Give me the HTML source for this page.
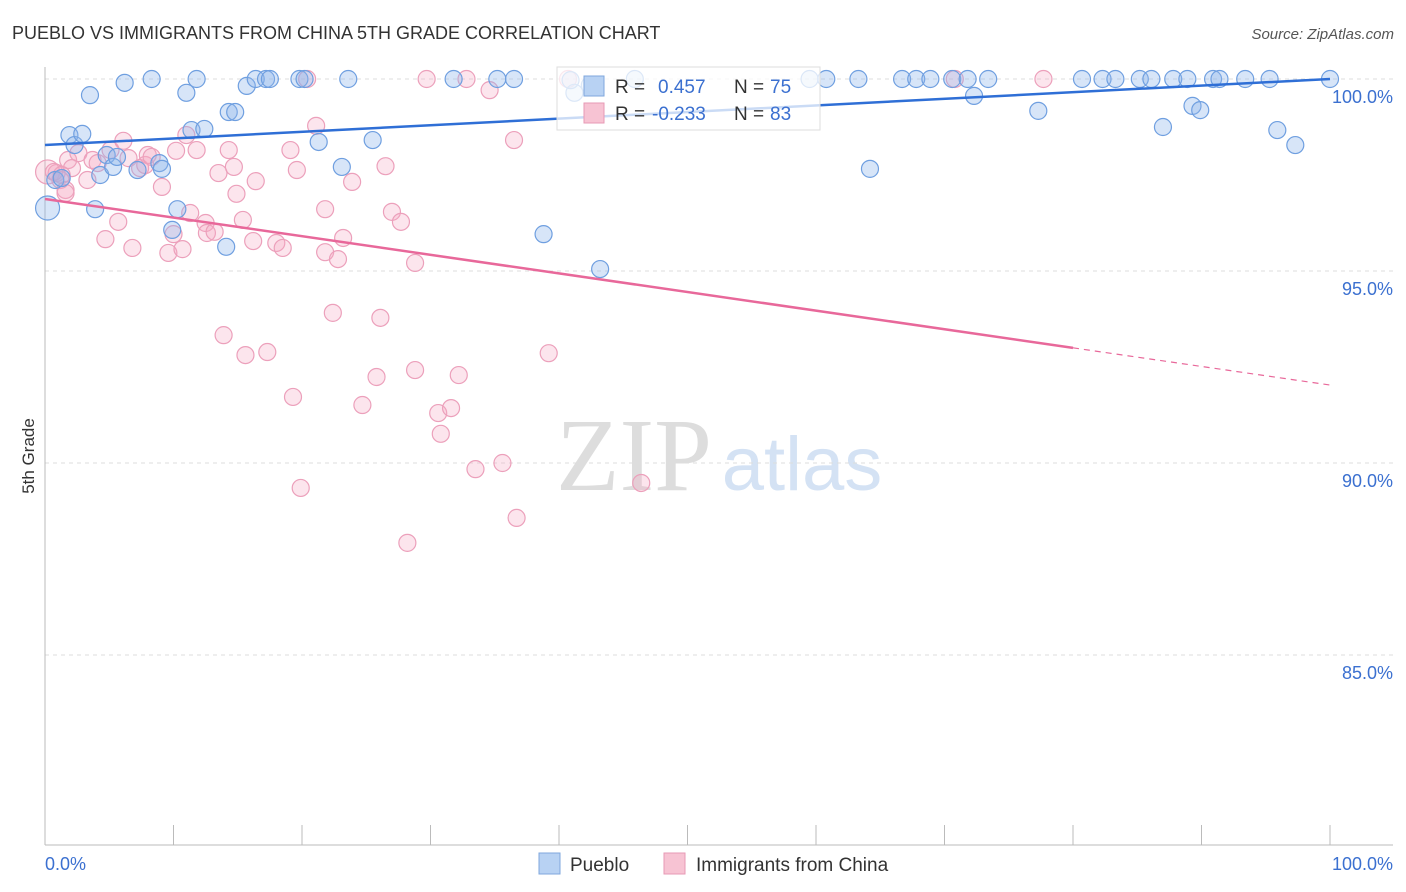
<!DOCTYPE html>
<html><head><meta charset="utf-8">
<style>
body{margin:0;background:#fff;font-family:"Liberation Sans",sans-serif;}
svg{display:block}
</style></head>
<body>
<svg id="chart" width="1406" height="892">
<text x="12" y="39" font-size="18" fill="#333">PUEBLO VS IMMIGRANTS FROM CHINA 5TH GRADE CORRELATION CHART</text>
<text x="1394" y="39" font-size="15" fill="#555" text-anchor="end" font-style="italic">Source: ZipAtlas.com</text>
<text x="34" y="456" font-size="17" fill="#333" text-anchor="middle" transform="rotate(-90 34 456)">5th Grade</text>
<g>
<text x="634" y="490" font-size="104" fill="#ddd" font-family="Liberation Serif,serif" text-anchor="middle">ZIP</text>
<text x="802" y="490" font-size="76" fill="#d4e2f4" text-anchor="middle">atlas</text>
</g>
<g id="grid"></g>
<g id="axes"></g>
<g id="pts"></g>
<g id="trend"></g>
<g>
<rect x="557" y="67" width="263" height="63" fill="#fff" fill-opacity="0.75" stroke="#ddd"/>
<rect x="584" y="76" width="20" height="20" fill="#b8d2f3" stroke="#7fa7dd"/>
<text x="615" y="93" font-size="19" fill="#333">R =</text>
<text x="658" y="93" font-size="19" fill="#3b70d0">0.457</text>
<text x="734" y="93" font-size="19" fill="#333">N =</text>
<text x="770" y="93" font-size="19" fill="#3b70d0">75</text>
<rect x="584" y="103" width="20" height="20" fill="#f7c3d3" stroke="#e79ab4"/>
<text x="615" y="120" font-size="19" fill="#333">R =</text>
<text x="652" y="120" font-size="19" fill="#3b70d0">-0.233</text>
<text x="734" y="120" font-size="19" fill="#333">N =</text>
<text x="770" y="120" font-size="19" fill="#3b70d0">83</text>
</g>
<g>
<rect x="539" y="853" width="21" height="21" fill="#b8d2f3" stroke="#7fa7dd"/>
<text x="570" y="871" font-size="19" fill="#333">Pueblo</text>
<rect x="664" y="853" width="21" height="21" fill="#f7c3d3" stroke="#e79ab4"/>
<text x="696" y="871" font-size="19" fill="#333">Immigrants from China</text>
</g>
</svg>
<script>
const yTicks=[100,95,90,85];
const xTickLabels=["0.0%","100.0%"];
const blueX=[0.2,0.8,1.3,1.9,2.3,2.9,3.5,3.9,4.3,4.8,5.3,5.6,6.2,7.2,8.3,8.9,9.1,9.9,10.3,11.0,11.4,11.8,12.4,14.1,14.3,14.8,15.7,16.4,17.2,17.5,19.8,20.2,21.3,23.1,23.6,25.5,31.8,35.2,36.5,38.8,41.2,43.2,45.9,59.5,60.8,63.3,64.2,66.7,67.8,68.9,70.6,71.8,72.3,73.4,77.3,80.7,82.3,83.3,85.2,86.1,87.0,87.8,88.9,89.3,89.9,90.9,91.4,93.4,95.3,95.9,97.3,100,40.9,42.4];
const blueY=[96.64,97.37,97.42,98.54,98.28,98.57,99.58,96.61,97.5,98.02,97.71,97.97,99.9,97.63,100,97.81,97.66,96.07,96.61,99.64,98.67,100,98.7,95.63,99.14,99.14,99.82,100,100,100,100,100,98.36,97.71,100,98.41,100,100,100,95.96,99.64,95.05,100,100,100,100,97.66,100,100,100,100,100,99.56,100,99.17,100,100,100,100,100,98.75,100,100,99.3,99.19,100,100,100,100,98.67,98.28,100,99.97,99.84];
const pinkX=[0.2,0.9,1.2,1.6,1.8,2.1,2.6,3.3,3.7,4.1,4.7,5.1,5.7,6.1,6.5,6.8,7.4,7.8,8.0,8.3,9.1,9.6,10.0,10.2,10.7,11.0,11.3,11.8,12.5,12.6,13.2,13.5,13.9,14.3,14.7,14.9,15.4,15.6,16.2,16.4,17.3,18.0,18.5,19.1,19.3,19.6,19.9,20.4,21.1,21.8,21.8,22.4,22.8,23.2,23.9,24.7,25.8,26.1,26.5,27.0,27.7,28.2,28.8,28.8,29.7,30.6,30.8,31.6,32.2,32.8,33.5,34.6,35.6,36.5,36.7,39.2,40.7,46.4,70.8,77.7,0.7,1.3,1.6];
const pinkY=[97.58,97.55,97.37,97.11,97.89,97.68,98.07,97.37,97.89,97.81,95.83,98.15,96.28,98.39,97.94,95.6,97.68,97.76,98.02,97.97,97.19,95.47,95.96,98.13,95.57,98.54,96.51,98.15,96.25,95.99,96.02,97.55,93.33,98.15,97.71,97.01,96.33,92.81,95.78,97.34,92.89,95.73,95.6,98.15,91.72,97.63,89.35,100,98.78,96.61,95.49,93.91,95.31,95.86,97.32,91.51,92.24,93.78,97.73,96.54,96.28,87.92,92.42,95.21,100,91.3,90.76,91.43,92.29,100,89.84,99.71,90.0,98.41,88.57,92.86,100,89.48,100,100,97.58,97.5,97.03];
const blueTrend=[98.28,100];
const pinkTrend=[96.875,92.03];
const NS="http://www.w3.org/2000/svg";
const sx=v=>45+v*12.85;
const sy=v=>79+(100-v)*38.4;
function mk(tag,attrs,parent){const e=document.createElementNS(NS,tag);for(const k in attrs)e.setAttribute(k,attrs[k]);parent.appendChild(e);return e;}
const grid=document.getElementById('grid'),axes=document.getElementById('axes'),pts=document.getElementById('pts'),tr=document.getElementById('trend');
yTicks.forEach(t=>{
 const l=mk('line',{x1:45,x2:1393,y1:sy(t),y2:sy(t),stroke:'#ddd','stroke-dasharray':'4 4'},grid);
 
 
 const tx=mk('text',{x:1393,y:sy(t)+24,'font-size':18,fill:'#3b70d0','text-anchor':'end'},grid);
 tx.textContent=t.toFixed(1)+'%';
 
 
});
const xa=mk('line',{x1:45,x2:1393,y1:845,y2:845,stroke:'#bbb'},axes);


const ya=mk('line',{x1:45,x2:45,y1:67,y2:845,stroke:'#bbb'},axes);


for(let i=0;i<=10;i++){
 const t=mk('line',{x1:sx(i*10),x2:sx(i*10),y1:825,y2:845,stroke:'#bbb'},axes);
 
 
}
[[0,'start'],[100,'end']].forEach((p,i)=>{
 const t=mk('text',{x:i?1393:45,y:870,'font-size':18,fill:'#3b70d0','text-anchor':p[1]},axes);
 t.textContent=xTickLabels[i];
 
 
});
function dots(X,Y,fill,stroke,name){
 X.forEach((x,i)=>{
  const big=(i===0);
  const c=mk('circle',{cx:sx(x),cy:sy(Y[i]),r:big?12:8.5,fill:fill,stroke:stroke,'stroke-width':1.2},pts);
  
  
 });
}
dots(pinkX,pinkY,'rgba(244,170,196,0.3)','#eca0bb','point-china');
dots(blueX,blueY,'rgba(140,180,235,0.35)','#6f9fe0','point-pueblo');
const bl=mk('line',{x1:sx(0),y1:sy(blueTrend[0]),x2:sx(100),y2:sy(blueTrend[1]),stroke:'#2f6fd6','stroke-width':2.5},tr);


const f=80,pm=pinkTrend[0]+(pinkTrend[1]-pinkTrend[0])*f/100;
const pl=mk('line',{x1:sx(0),y1:sy(pinkTrend[0]),x2:sx(f),y2:sy(pm),stroke:'#e8689a','stroke-width':2.5},tr);


const pd=mk('line',{x1:sx(f),y1:sy(pm),x2:sx(100),y2:sy(pinkTrend[1]),stroke:'#e8689a','stroke-width':1.2,'stroke-dasharray':'6 5'},tr);


</script>
</body></html>
